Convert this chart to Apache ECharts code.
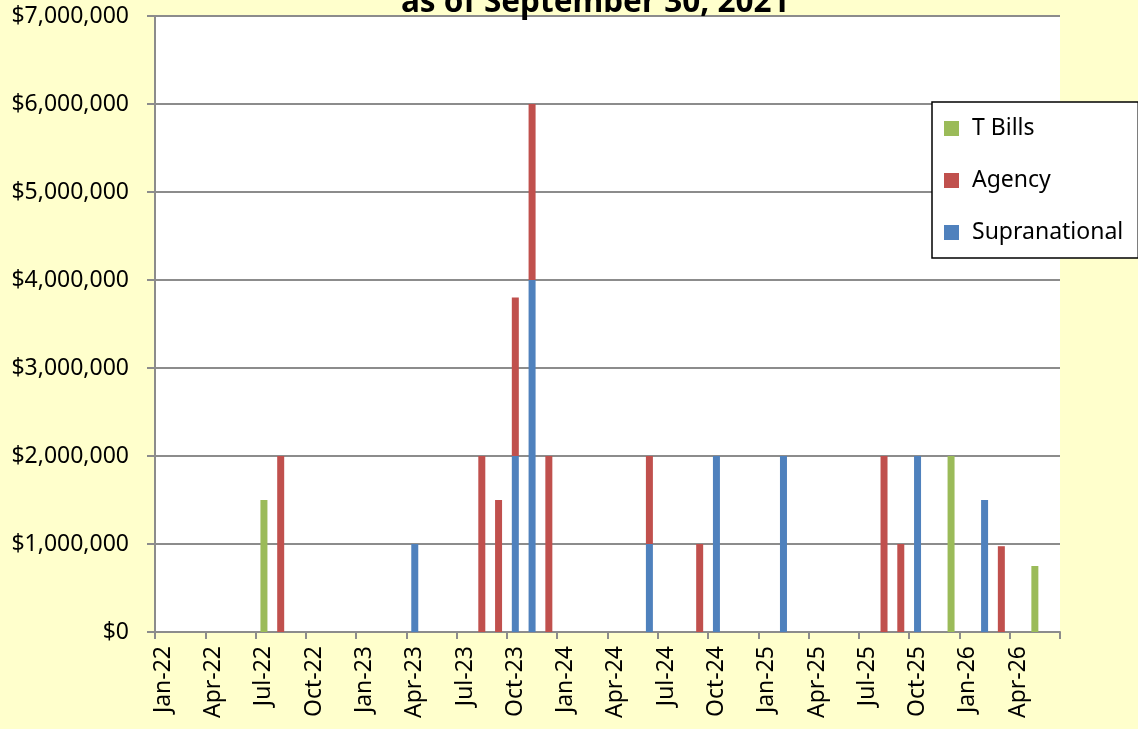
<!DOCTYPE html>
<html>
<head>
<meta charset="utf-8">
<script src="https://cdn.jsdelivr.net/npm/echarts@6/dist/echarts.min.js"></script>
<style>
html,body{margin:0;padding:0;background:#FFFFCC;}
#chart{width:1138px;height:729px;}
</style>
</head>
<body>
<div id="chart"></div>
<script>
const titleText = 'as of September 30, 2021';
const months = [
  'Jan-22','Feb-22','Mar-22','Apr-22','May-22','Jun-22','Jul-22','Aug-22','Sep-22','Oct-22','Nov-22','Dec-22',
  'Jan-23','Feb-23','Mar-23','Apr-23','May-23','Jun-23','Jul-23','Aug-23','Sep-23','Oct-23','Nov-23','Dec-23',
  'Jan-24','Feb-24','Mar-24','Apr-24','May-24','Jun-24','Jul-24','Aug-24','Sep-24','Oct-24','Nov-24','Dec-24',
  'Jan-25','Feb-25','Mar-25','Apr-25','May-25','Jun-25','Jul-25','Aug-25','Sep-25','Oct-25','Nov-25','Dec-25',
  'Jan-26','Feb-26','Mar-26','Apr-26','May-26','Jun-26'
];
// values per month (same order as months)
const tBills = [
  0,0,0,0,0,0,1500000,0,0,0,0,0,
  0,0,0,0,0,0,0,0,0,0,0,0,
  0,0,0,0,0,0,0,0,0,0,0,0,
  0,0,0,0,0,0,0,0,0,0,0,2000000,
  0,0,0,0,750000,0
];
const agency = [
  0,0,0,0,0,0,0,2000000,0,0,0,0,
  0,0,0,0,0,0,0,2000000,1500000,1800000,2000000,2000000,
  0,0,0,0,0,1000000,0,0,1000000,0,0,0,
  0,0,0,0,0,0,0,2000000,1000000,0,0,0,
  0,0,975000,0,0,0
];
const supranational = [
  0,0,0,0,0,0,0,0,0,0,0,0,
  0,0,0,1000000,0,0,0,0,0,2000000,4000000,0,
  0,0,0,0,0,1000000,0,0,0,2000000,0,0,
  0,2000000,0,0,0,0,0,0,0,2000000,0,0,
  0,1500000,0,0,0,0
];
const legendNames = ['T Bills','Agency','Supranational'];
const colors = {'T Bills':'#9BBB59','Agency':'#C0504D','Supranational':'#4F81BD'};

const FONT = 'Noto Sans';
const chart = echarts.init(document.getElementById('chart'), null, {renderer:'canvas'});
const gray = '#8C8C8C';
const fmt = v => '$' + Number(v).toLocaleString('en-US');
chart.setOption({
  backgroundColor:'#FFFFCC',
  animation:false,
  title:{
    text:titleText, left:396, top:-18,
    textStyle:{fontFamily:FONT, fontWeight:'bold', fontSize:31.5, color:'#000'}
  },
  legend:{
    data:legendNames, orient:'vertical', left:932, top:102,
    icon:'rect', itemWidth:15, itemHeight:15, itemGap:29,
    padding:[15,15,14,12],
    backgroundColor:'#FFFFFF', borderColor:'#000', borderWidth:1.5,
    textStyle:{fontFamily:FONT, fontSize:23, color:'#000', padding:[0,0,0,8]}
  },
  grid:{left:155, right:78, top:16, bottom:97, show:true, backgroundColor:'#FFFFFF', borderWidth:0, containLabel:false},
  xAxis:{
    type:'category', data:months, boundaryGap:true,
    axisLine:{show:true, lineStyle:{color:gray, width:2}},
    axisTick:{show:true, interval:2, length:7, alignWithLabel:false, lineStyle:{color:gray, width:2}},
    axisLabel:{interval:2, rotate:90, margin:14, fontFamily:FONT, fontSize:23, color:'#000'},
    splitLine:{show:false}
  },
  yAxis:{
    type:'value', min:0, max:7000000, interval:1000000,
    axisLine:{show:true, lineStyle:{color:gray, width:2}},
    axisTick:{show:true, length:8, lineStyle:{color:gray, width:2}},
    axisLabel:{formatter:fmt, margin:26, fontFamily:FONT, fontSize:23, color:'#000'},
    splitLine:{show:true, lineStyle:{color:gray, width:2}}
  },
  series:[
    {name:'Supranational', type:'bar', stack:'m', data:supranational, barWidth:7, itemStyle:{color:colors['Supranational']}},
    {name:'Agency', type:'bar', stack:'m', data:agency, barWidth:7, itemStyle:{color:colors['Agency']}},
    {name:'T Bills', type:'bar', stack:'m', data:tBills, barWidth:7, itemStyle:{color:colors['T Bills']}}
  ]
});
</script>
</body>
</html>
